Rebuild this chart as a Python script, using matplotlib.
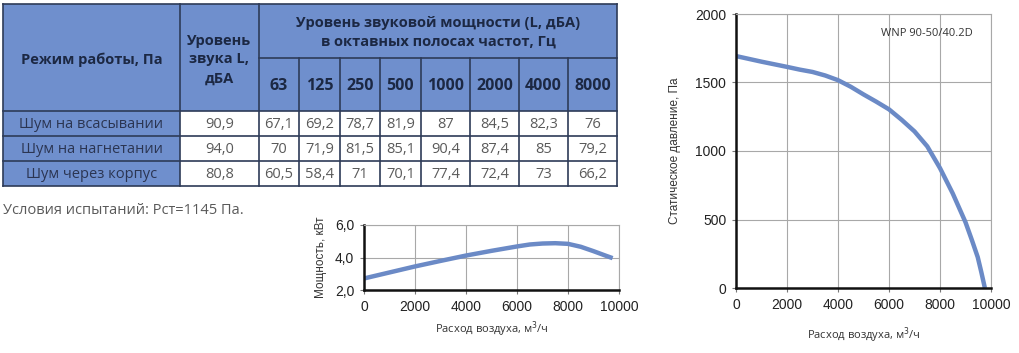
import matplotlib
matplotlib.use("Agg")
import matplotlib.pyplot as plt
from matplotlib.patches import Rectangle

# ---------------- data ----------------
row_labels = ["Шум на всасывании", "Шум на нагнетании", "Шум через корпус"]
total_level = ["90,9", "94,0", "80,8"]
freq_labels = ["63", "125", "250", "500", "1000", "2000", "4000", "8000"]
octave_suction = ["67,1", "69,2", "78,7", "81,9", "87", "84,5", "82,3", "76"]
octave_discharge = ["70", "71,9", "81,5", "85,1", "90,4", "87,4", "85", "79,2"]
octave_casing = ["60,5", "58,4", "71", "70,1", "77,4", "72,4", "73", "66,2"]
octave_rows = [octave_suction, octave_discharge, octave_casing]
hdr_mode = "Режим работы, Па"
hdr_level = "Уровень\nзвука L,\nдБА"
hdr_octave = "Уровень звуковой мощности (L, дБА)\nв октавных полосах частот, Гц"
test_note = "Условия испытаний: Рст=1145 Па."

power_flow = [0, 1000, 2000, 3000, 4000, 5000, 6000, 6500, 7000, 7500, 8000, 8500, 9000, 9500, 9750]
power_kw = [2.71, 3.08, 3.45, 3.79, 4.12, 4.41, 4.68, 4.80, 4.86, 4.88, 4.84, 4.66, 4.39, 4.10, 3.96]
power_yticks = [2, 4, 6]
power_ytick_labels = ["2,0", "4,0", "6,0"]

press_flow = [0, 1000, 2000, 2500, 3000, 3500, 4000, 4500, 5000, 5500, 6000, 6500, 7000,
              7500, 8000, 8500, 9000, 9250, 9480, 9620, 9760]
press_pa = [1693, 1652, 1614, 1594, 1577, 1551, 1517, 1469, 1413, 1360, 1304, 1227, 1143,
            1034, 875, 690, 480, 350, 225, 116, 0]
press_yticks = [0, 500, 1000, 1500, 2000]
flow_ticks = [0, 2000, 4000, 6000, 8000, 10000]
model_label = "WNP 90-50/40.2D"
xlabel = "Расход воздуха, м$^3$/ч"
power_ylabel = "Мощность, кВт"
press_ylabel = "Статическое давление, Па"

# ---------------- style ----------------
W, H = 1020, 353
BLUE = "#6f8fcd"
BORDER = "#2e3b58"
HDR_TXT = "#1c2843"
CELL_TXT = "#5a5a5a"
FIRST_TXT = "#2b3552"
CURVE = "#6b8ac6"
GRID = "#a8a8a8"

fig = plt.figure(figsize=(W / 100, H / 100), dpi=100)
bg = fig.add_axes([0, 0, 1, 1])
bg.set_xlim(0, W)
bg.set_ylim(H, 0)
bg.axis("off")

# table geometry (pixels)
col_x = [3, 180, 259, 299, 340, 380, 421, 470, 519, 568, 617]
y_top, y_mid, y_hdr, y_r1, y_r2, y_bot = 4, 58, 111, 136, 161, 186

bg.add_patch(Rectangle((col_x[0], y_top), col_x[-1] - col_x[0], y_hdr - y_top,
                       facecolor=BLUE, edgecolor="none"))
bg.add_patch(Rectangle((col_x[0], y_hdr), col_x[1] - col_x[0], y_bot - y_hdr,
                       facecolor=BLUE, edgecolor="none"))

lw = 1.2
bg.plot([col_x[0], col_x[-1]], [y_top, y_top], color=BORDER, lw=lw)
bg.plot([col_x[2], col_x[-1]], [y_mid, y_mid], color=BORDER, lw=lw)
for yy in (y_hdr, y_r1, y_r2, y_bot):
    bg.plot([col_x[0], col_x[-1]], [yy, yy], color=BORDER, lw=lw)
for i, xx in enumerate(col_x):
    top = y_mid if 3 <= i <= 9 else y_top
    bg.plot([xx, xx], [top, y_bot], color=BORDER, lw=lw)

fam_t = ["Open Sans", "DejaVu Sans"]
bg.text((col_x[0] + col_x[1]) / 2, (y_top + y_hdr) / 2 + 2, hdr_mode, ha="center", va="center",
        fontsize=10.5, fontweight="bold", color=HDR_TXT, family=fam_t)
bg.text((col_x[1] + col_x[2]) / 2, (y_top + y_hdr) / 2 + 2, hdr_level, ha="center", va="center",
        fontsize=10.5, fontweight="bold", color=HDR_TXT, family=fam_t, linespacing=1.45)
bg.text((col_x[2] + col_x[-1]) / 2, (y_top + y_mid) / 2 + 1, hdr_octave, ha="center", va="center",
        fontsize=10.5, fontweight="bold", color=HDR_TXT, family=fam_t, linespacing=1.45)
for i, f in enumerate(freq_labels):
    bg.text((col_x[i + 2] + col_x[i + 3]) / 2, (y_mid + y_hdr) / 2 + 2, f, ha="center", va="center",
            fontsize=11.5, fontweight="bold", color=HDR_TXT, family=fam_t)

row_y = [(y_hdr + y_r1) / 2, (y_r1 + y_r2) / 2, (y_r2 + y_bot) / 2]
for r in range(3):
    yc = row_y[r] + 1
    bg.text((col_x[0] + col_x[1]) / 2, yc, row_labels[r], ha="center", va="center",
            fontsize=10.5, color=FIRST_TXT, family=fam_t)
    bg.text((col_x[1] + col_x[2]) / 2, yc, total_level[r], ha="center", va="center",
            fontsize=10.5, color=CELL_TXT, family=fam_t)
    for i, v in enumerate(octave_rows[r]):
        bg.text((col_x[i + 2] + col_x[i + 3]) / 2, yc, v, ha="center", va="center",
                fontsize=10.5, color=CELL_TXT, family=fam_t)

bg.text(3, 210, test_note, ha="left", va="center", fontsize=10.5, color=CELL_TXT, family=fam_t)

tick_fam = ["Liberation Sans", "DejaVu Sans"]


def style_axes(ax):
    ax.grid(True, color=GRID, lw=0.8)
    ax.set_axisbelow(True)
    for s in ("top", "right"):
        ax.spines[s].set_color(GRID)
        ax.spines[s].set_linewidth(0.8)
    for s in ("left", "bottom"):
        ax.spines[s].set_color("#111111")
        ax.spines[s].set_linewidth(1.8)
    ax.tick_params(length=3, width=0.8, color="#777777", labelcolor="#222222", pad=4)
    for lab in ax.get_xticklabels() + ax.get_yticklabels():
        lab.set_family(tick_fam)
        lab.set_fontsize(10)


def pax(x0, y0, x1, y1):
    return fig.add_axes([x0 / W, (H - y1) / H, (x1 - x0) / W, (y1 - y0) / H])


# power chart
ax1 = pax(364, 225, 619, 290)
ax1.plot(power_flow, power_kw, color=CURVE, lw=3.2, solid_capstyle="butt", solid_joinstyle="round")
ax1.set_xlim(0, 10000)
ax1.set_ylim(2, 6)
ax1.set_xticks(flow_ticks)
ax1.set_yticks(power_yticks)
ax1.set_yticklabels(power_ytick_labels)
style_axes(ax1)
ax1.set_xlabel(xlabel, fontsize=8, family=fam_t, color="#333333", labelpad=4)
ax1.set_ylabel(power_ylabel, fontsize=8.5, family=tick_fam, color="#333333", labelpad=6)

# pressure chart
ax2 = pax(736, 14, 991, 288)
ax2.plot(press_flow, press_pa, color=CURVE, lw=3.2, solid_capstyle="butt", solid_joinstyle="round")
ax2.set_xlim(0, 10000)
ax2.set_ylim(0, 2000)
ax2.set_xticks(flow_ticks)
ax2.set_yticks(press_yticks)
style_axes(ax2)
ax2.set_xlabel(xlabel, fontsize=8, family=fam_t, color="#333333", labelpad=10)
ax2.set_ylabel(press_ylabel, fontsize=8.5, family=tick_fam, color="#333333", labelpad=10)
ax2.text(0.93, 0.93, model_label, transform=ax2.transAxes, ha="right", va="center",
         fontsize=8, family=fam_t, color="#333333")

fig.savefig("out.png", dpi=100, facecolor="white")
